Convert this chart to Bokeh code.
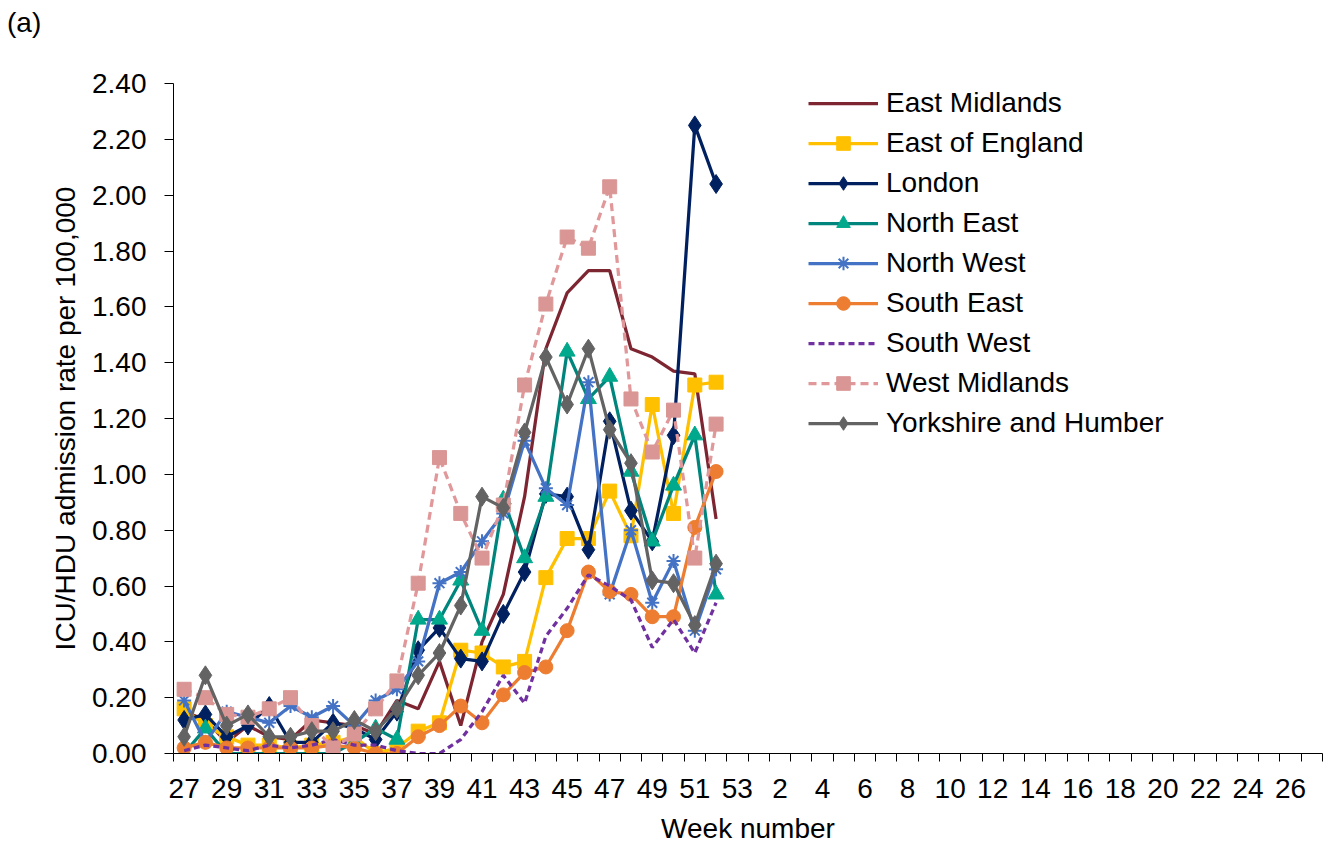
from bokeh.plotting import figure
from bokeh.layouts import column
from bokeh.models import (Range1d, FixedTicker, Legend, LegendItem, Div,
                          NumeralTickFormatter)
from bokeh.embed import file_html
from bokeh.resources import INLINE

# ---------------- data ----------------
week_labels = [str(w) for w in range(27, 54)] + [str(w) for w in range(1, 28)]
weeks = list(range(27, 53))

east_midlands = [0.15, 0.12, 0.04, 0.10, 0.06, 0.05, 0.12, 0.11, 0.10, 0.07, 0.19, 0.16, 0.33, 0.10,
                 0.40, 0.57, 0.92, 1.45, 1.65, 1.73, 1.73, 1.45, 1.42, 1.37, 1.36, 0.84]
east_of_england = [0.16, 0.10, 0.06, 0.03, 0.03, 0.02, 0.03, 0.04, 0.06, 0.00, 0.02, 0.08, 0.11, 0.37,
                   0.36, 0.31, 0.33, 0.63, 0.77, 0.77, 0.94, 0.78, 1.25, 0.86, 1.32, 1.33]
london = [0.12, 0.14, 0.06, 0.10, 0.17, 0.04, 0.04, 0.11, 0.09, 0.05, 0.15, 0.37, 0.45, 0.34,
          0.33, 0.50, 0.65, 0.93, 0.92, 0.73, 1.19, 0.87, 0.76, 1.14, 2.25, 2.04]
north_east = [0.00, 0.09, 0.00, 0.00, 0.00, 0.00, 0.00, 0.00, 0.04, 0.09, 0.05, 0.48, 0.48, 0.62,
              0.44, 0.91, 0.70, 0.92, 1.44, 1.27, 1.35, 1.01, 0.76, 0.96, 1.14, 0.57]
north_west = [0.19, 0.04, 0.15, 0.13, 0.11, 0.17, 0.13, 0.17, 0.10, 0.19, 0.23, 0.33, 0.61, 0.65,
              0.76, 0.86, 1.12, 0.95, 0.89, 1.33, 0.57, 0.80, 0.54, 0.69, 0.44, 0.66]
south_east = [0.02, 0.04, 0.02, 0.02, 0.02, 0.02, 0.02, 0.03, 0.02, 0.00, 0.00, 0.06, 0.10, 0.17,
              0.11, 0.21, 0.29, 0.31, 0.44, 0.65, 0.58, 0.57, 0.49, 0.49, 0.81, 1.01]
south_west = [0.01, 0.03, 0.02, 0.01, 0.03, 0.02, 0.03, 0.05, 0.03, 0.03, 0.01, 0.00, 0.00, 0.05,
              0.15, 0.28, 0.18, 0.42, 0.52, 0.64, 0.60, 0.55, 0.38, 0.48, 0.36, 0.54]
west_midlands = [0.23, 0.20, 0.14, 0.13, 0.16, 0.20, 0.10, 0.02, 0.07, 0.16, 0.26, 0.61, 1.06, 0.86,
                 0.70, 0.89, 1.32, 1.61, 1.85, 1.81, 2.03, 1.27, 1.08, 1.23, 0.70, 1.18]
yorkshire = [0.06, 0.28, 0.10, 0.14, 0.06, 0.06, 0.08, 0.08, 0.12, 0.08, 0.16, 0.28, 0.36, 0.53,
             0.92, 0.88, 1.15, 1.42, 1.25, 1.45, 1.16, 1.04, 0.62, 0.61, 0.46, 0.68]

y_ticks = [0.0, 0.2, 0.4, 0.6, 0.8, 1.0, 1.2, 1.4, 1.6, 1.8, 2.0, 2.2, 2.4]

FONT = "Liberation Sans"
HEAD = 40  # height of the "(a)" header strip

# category index of every week on the axis
x = [week_labels.index(str(w)) for w in weeks]

p = figure(width=1330, height=846 - HEAD, output_backend="svg", toolbar_location=None,
           x_range=Range1d(-0.5, len(week_labels) - 0.5), y_range=Range1d(0, 2.4),
           min_border_left=173, min_border_right=8, min_border_top=83 - HEAD, min_border_bottom=93,
           margin=(0, 0, 0, 0))
p.outline_line_color = None
p.xgrid.grid_line_color = None
p.ygrid.grid_line_color = None
p.background_fill_color = "white"

# x axis: labels every other category, tick marks between categories
xa = p.xaxis[0]
xa.ticker = FixedTicker(ticks=list(range(0, len(week_labels), 2)),
                        minor_ticks=[i - 0.5 for i in range(0, len(week_labels) + 1)])
xa.major_label_overrides = {i: week_labels[i] for i in range(0, len(week_labels), 2)}
xa.major_tick_out = 0
xa.major_tick_in = 0
xa.minor_tick_out = 8
xa.minor_tick_in = 0
xa.minor_tick_line_color = "black"
xa.axis_line_color = "black"
xa.major_label_text_font = FONT
xa.major_label_text_font_size = "28px"
xa.major_label_text_color = "black"
xa.major_label_standoff = 17
xa.axis_label = "Week number"
xa.axis_label_text_font = FONT
xa.axis_label_text_font_size = "28px"
xa.axis_label_text_font_style = "normal"
xa.axis_label_text_color = "black"
xa.axis_label_standoff = 12

ya = p.yaxis[0]
ya.ticker = FixedTicker(ticks=y_ticks)
ya.formatter = NumeralTickFormatter(format="0.00")
ya.major_tick_out = 9
ya.major_tick_in = 0
ya.minor_tick_out = 0
ya.minor_tick_in = 0
ya.major_tick_line_color = "black"
ya.axis_line_color = "black"
ya.major_label_text_font = FONT
ya.major_label_text_font_size = "28px"
ya.major_label_text_color = "black"
ya.major_label_standoff = 18
ya.axis_label = "ICU/HDU admission rate per 100,000"
ya.axis_label_text_font = FONT
ya.axis_label_text_font_size = "28px"
ya.axis_label_text_font_style = "normal"
ya.axis_label_text_color = "black"
ya.axis_label_standoff = 8

LW = 3.25
items = []


def series(name, vals, line_color, dash="solid", marker=None, fill=None, size=14, mlw=1.0):
    rs = [p.line(x, vals, line_color=line_color, line_width=LW, line_dash=dash)]
    if marker is not None:
        if marker == "asterisk":
            rs.append(p.scatter(x, vals, marker=marker, size=size, line_color=fill, line_width=mlw))
        else:
            rs.append(p.scatter(x, vals, marker=marker, size=size, fill_color=fill,
                                line_color=fill, line_width=mlw))
    items.append(LegendItem(label=name, renderers=rs))


series("East Midlands", east_midlands, "#7D2632")
series("East of England", east_of_england, "#FFC000", marker="square", fill="#FFC000", size=14)
series("London", london, "#002060", marker="diamond", fill="#002060", size=19)
series("North East", north_east, "#00857D", marker="triangle", fill="#00A88C", size=16)
series("North West", north_west, "#4472C4", marker="asterisk", fill="#4472C4", size=14, mlw=2)
series("South East", south_east, "#ED7D31", marker="circle", fill="#ED7D31", size=14)
series("South West", south_west, "#7030A0", dash="6 4")
series("West Midlands", west_midlands, "#E0989A", dash="8 5", marker="square", fill="#D99694", size=14)
series("Yorkshire and Humber", yorkshire, "#636363", marker="diamond", fill="#636363", size=19)

legend = Legend(items=items, location=(635, 313),
                label_text_font=FONT, label_text_font_size="28px", label_text_color="black",
                glyph_width=70, glyph_height=34, label_height=34, spacing=6,
                padding=0, margin=0, label_standoff=8,
                border_line_alpha=0, background_fill_alpha=0)
p.add_layout(legend)

head = Div(text="<div style=\"padding:7px 0 0 7px; font-family:'Liberation Sans'; "
                "font-size:28px; line-height:normal; color:black;\">(a)</div>",
           width=1330, height=HEAD, margin=(0, 0, 0, 0))

layout = column(head, p, spacing=0, margin=(0, 0, 0, 0))

open("out.html", "w").write(file_html(layout, INLINE))
